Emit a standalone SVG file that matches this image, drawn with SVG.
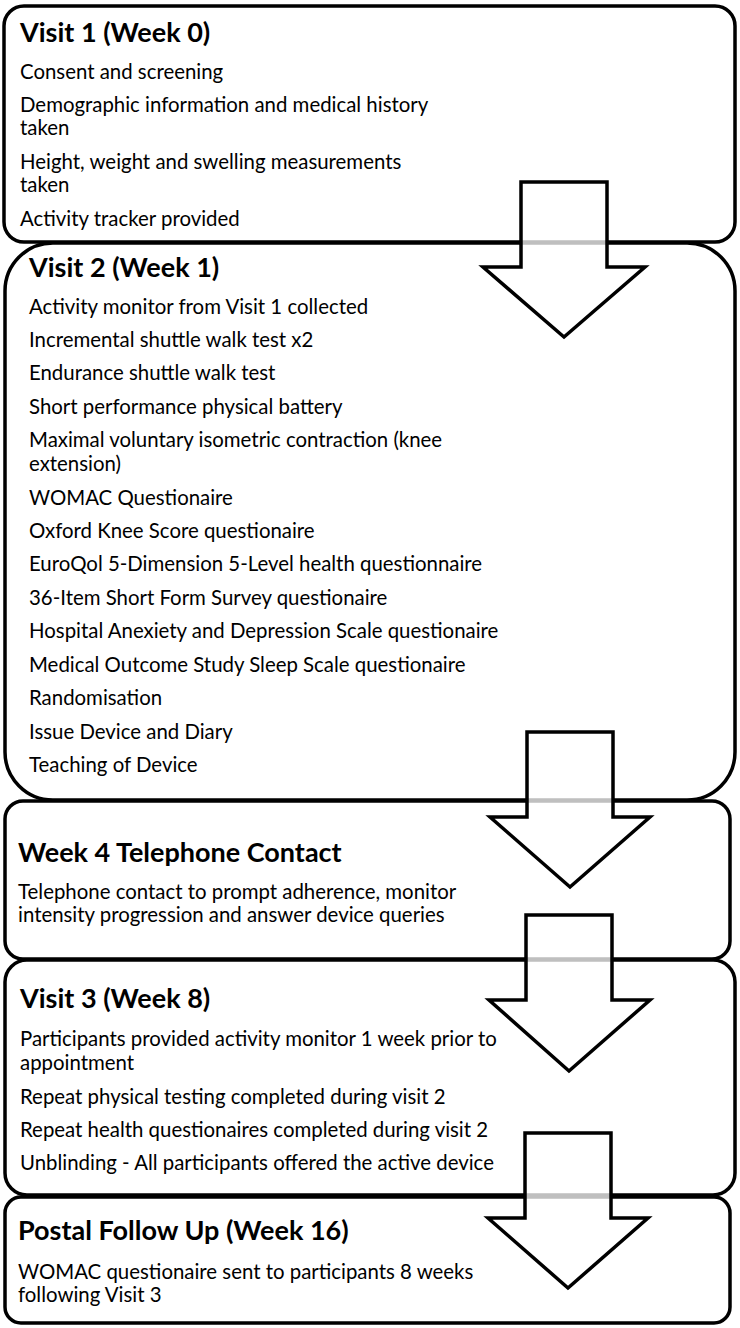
<svg xmlns="http://www.w3.org/2000/svg" width="740" height="1328" viewBox="0 0 740 1328">
<style>
.box{fill:#fff;stroke:#000;stroke-width:3.5}
.arrow{fill:#fff;fill-opacity:0.75;stroke:#000;stroke-width:3.5;stroke-linejoin:miter}
.t{font-family:Lato,"Liberation Sans",sans-serif;font-size:27px;font-weight:bold;fill:#000}
.b{font-family:Lato,"Liberation Sans",sans-serif;font-size:20.4px;fill:#000}
</style>
<rect width="740" height="1328" fill="#fff"/>
<g id="visit1">
<rect class="box" x="4" y="6" width="731" height="236" rx="20"/>
<text class="t" x="20" y="42">Visit 1 (Week 0)</text>
<text class="b" x="20" y="79">Consent and screening</text>
<text class="b" x="20" y="112">Demographic information and medical history</text>
<text class="b" x="20" y="135">taken</text>
<text class="b" x="20" y="169">Height, weight and swelling measurements</text>
<text class="b" x="20" y="192">taken</text>
<text class="b" x="20" y="226">Activity tracker provided</text>
</g>
<g id="visit2">
<rect class="box" x="5" y="243" width="730" height="557" rx="48"/>
<text class="t" x="29" y="277">Visit 2 (Week 1)</text>
<text class="b" x="29" y="314">Activity monitor from Visit 1 collected</text>
<text class="b" x="29" y="347">Incremental shuttle walk test x2</text>
<text class="b" x="29" y="380">Endurance shuttle walk test</text>
<text class="b" x="29" y="414">Short performance physical battery</text>
<text class="b" x="29" y="447">Maximal voluntary isometric contraction (knee</text>
<text class="b" x="29" y="471">extension)</text>
<text class="b" x="29" y="505">WOMAC Questionaire</text>
<text class="b" x="29" y="538">Oxford Knee Score questionaire</text>
<text class="b" x="29" y="571">EuroQol 5-Dimension 5-Level health questionnaire</text>
<text class="b" x="29" y="605">36-Item Short Form Survey questionaire</text>
<text class="b" x="29" y="638">Hospital Anexiety and Depression Scale questionaire</text>
<text class="b" x="29" y="672">Medical Outcome Study Sleep Scale questionaire</text>
<text class="b" x="29" y="705">Randomisation</text>
<text class="b" x="29" y="739">Issue Device and Diary</text>
<text class="b" x="29" y="772">Teaching of Device</text>
</g>
<g id="week4">
<rect class="box" x="5" y="801" width="725" height="158" rx="18"/>
<text class="t" x="18" y="862">Week 4 Telephone Contact</text>
<text class="b" x="18" y="899">Telephone contact to prompt adherence, monitor</text>
<text class="b" x="18" y="922">intensity progression and answer device queries</text>
</g>
<g id="visit3">
<rect class="box" x="5" y="960" width="730" height="235" rx="22"/>
<text class="t" x="20" y="1008">Visit 3 (Week 8)</text>
<text class="b" x="20" y="1046">Participants provided activity monitor 1 week prior to</text>
<text class="b" x="20" y="1070">appointment</text>
<text class="b" x="20" y="1104">Repeat physical testing completed during visit 2</text>
<text class="b" x="20" y="1137">Repeat health questionaires completed during visit 2</text>
<text class="b" x="20" y="1170">Unblinding - All participants offered the active device</text>
</g>
<g id="postal">
<rect class="box" x="5" y="1197" width="725" height="126" rx="16"/>
<text class="t" x="18" y="1240">Postal Follow Up (Week 16)</text>
<text class="b" x="18" y="1279">WOMAC questionaire sent to participants 8 weeks</text>
<text class="b" x="18" y="1302">following Visit 3</text>
</g>
<g id="connectors">
<polygon class="arrow" points="521,182 607,182 607,267 645,267 564,337 483,267 521,267"/>
<polygon class="arrow" points="527,732 613,732 613,817 650,817 570,887 490,817 527,817"/>
<polygon class="arrow" points="526,915 612,915 612,1000 650,1000 569,1071 489,1000 526,1000"/>
<polygon class="arrow" points="525,1133 611,1133 611,1218 648,1218 568,1288 488,1218 525,1218"/>
</g>
</svg>
